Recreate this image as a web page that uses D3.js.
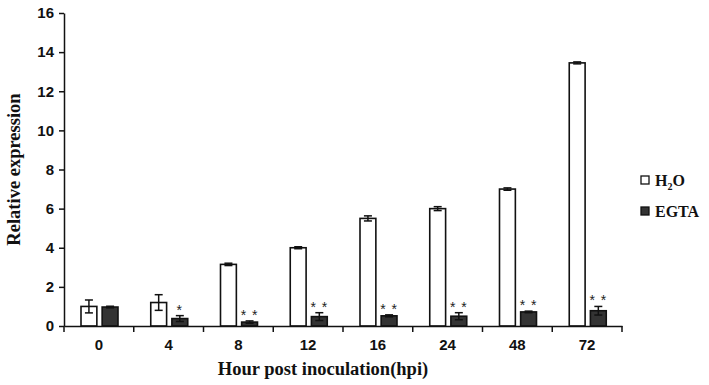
<!DOCTYPE html>
<html>
<head>
<meta charset="utf-8">
<script src="https://cdn.jsdelivr.net/npm/d3@7"></script>
<style>
  body { margin: 0; background: #fff; }
</style>
</head>
<body>
<div id="chart"></div>
<script>
// data
const hours = ["0", "4", "8", "12", "16", "24", "48", "72"];
const series = ["H2O", "EGTA"];
const h2oValues = [1.0, 1.2, 3.15, 4.0, 5.5, 6.0, 7.0, 13.45];
const h2oErrors = [0.33, 0.4, 0.06, 0.05, 0.13, 0.1, 0.06, 0.05];
const egtaValues = [0.97, 0.38, 0.2, 0.48, 0.52, 0.5, 0.72, 0.78];
const egtaErrors = [0.04, 0.15, 0.06, 0.2, 0.05, 0.18, 0.04, 0.22];
const marks = ["", "*", "**", "**", "**", "**", "**", "**"];
const yTicks = [0, 2, 4, 6, 8, 10, 12, 14, 16];

const width = 709, height = 385;
const margin = { t: 13, r: 87, b: 59, l: 64 };
const w = width - margin.l - margin.r;
const h = height - margin.t - margin.b;

const svg = d3.select("#chart").append("svg")
    .attr("width", width)
    .attr("height", height);

const g = svg.append("g").attr("transform", `translate(${margin.l},${margin.t})`);

const x = d3.scaleBand().domain(hours).range([0, w]).padding(0);
const x1 = d3.scaleBand().domain(series).range([17, 54]).paddingInner(0.25).paddingOuter(0);
const y = d3.scaleLinear().domain([0, 16]).range([h, 0]);

const rows = hours.map((hr, i) => ({
    hour: hr,
    mark: marks[i],
    bars: [
        { key: "H2O", v: h2oValues[i], e: h2oErrors[i] },
        { key: "EGTA", v: egtaValues[i], e: egtaErrors[i] }
    ]
}));

const fills = { "H2O": "#fff", "EGTA": "#333" };

// bars
const groups = g.selectAll(".grp").data(rows).join("g")
    .attr("class", "grp")
    .attr("transform", d => `translate(${x(d.hour)},0)`);

groups.selectAll("rect").data(d => d.bars).join("rect")
    .attr("x", d => x1(d.key))
    .attr("y", d => y(d.v))
    .attr("width", x1.bandwidth())
    .attr("height", d => h - y(d.v))
    .attr("fill", d => fills[d.key])
    .attr("stroke", "#111")
    .attr("stroke-width", 1.6);

// error bars
const err = groups.selectAll(".err").data(d => d.bars).join("g").attr("class", "err")
    .attr("stroke", "#111").attr("stroke-width", 1.5);
err.append("line")
    .attr("x1", d => x1(d.key) + x1.bandwidth() / 2)
    .attr("x2", d => x1(d.key) + x1.bandwidth() / 2)
    .attr("y1", d => y(d.v + d.e))
    .attr("y2", d => y(d.v - d.e));
err.append("line")
    .attr("x1", d => x1(d.key) + x1.bandwidth() / 2 - 4)
    .attr("x2", d => x1(d.key) + x1.bandwidth() / 2 + 4)
    .attr("y1", d => y(d.v + d.e))
    .attr("y2", d => y(d.v + d.e));
err.append("line")
    .attr("x1", d => x1(d.key) + x1.bandwidth() / 2 - 4)
    .attr("x2", d => x1(d.key) + x1.bandwidth() / 2 + 4)
    .attr("y1", d => y(d.v - d.e))
    .attr("y2", d => y(d.v - d.e));

// significance stars
groups.append("text")
    .attr("x", x1("EGTA") + x1.bandwidth() / 2)
    .attr("y", d => y(d.bars[1].v + d.bars[1].e) - 1)
    .attr("text-anchor", "middle")
    .attr("font-family", "Liberation Sans, Arial, sans-serif")
    .attr("font-size", "14px")
    .attr("fill", "#222")
    .attr("letter-spacing", "1px")
    .text(d => d.mark.split("").join(" "));

// y axis
const yAxis = g.append("g")
    .call(d3.axisLeft(y).tickValues(yTicks).tickSize(5).tickSizeOuter(0).tickPadding(5));
yAxis.selectAll("text")
    .attr("font-family", "Liberation Sans, Arial, sans-serif")
    .attr("font-weight", "bold")
    .attr("font-size", "15px")
    .attr("fill", "#111");
yAxis.selectAll("line, path").attr("stroke", "#111").attr("stroke-width", 1.5);

// x axis: labels centered, ticks on the band boundaries
const xAxis = g.append("g").attr("transform", `translate(0,${h})`)
    .call(d3.axisBottom(x).tickSize(0).tickSizeOuter(0).tickPadding(13));
xAxis.selectAll("text")
    .attr("font-family", "Liberation Sans, Arial, sans-serif")
    .attr("font-weight", "bold")
    .attr("font-size", "15px")
    .attr("fill", "#111");
xAxis.select("path").attr("stroke", "#111").attr("stroke-width", 1.5);
xAxis.selectAll(".bnd").data(hours.map(d => x(d)).concat([w])).join("line")
    .attr("class", "bnd")
    .attr("x1", d => d).attr("x2", d => d)
    .attr("y1", 0).attr("y2", 6)
    .attr("stroke", "#111").attr("stroke-width", 1.5);

// axis titles
svg.append("text")
    .attr("transform", `translate(20,${margin.t + h / 2}) rotate(-90)`)
    .attr("text-anchor", "middle")
    .attr("font-family", "Liberation Serif, Times New Roman, serif")
    .attr("font-weight", "bold")
    .attr("font-size", "18.5px")
    .attr("fill", "#111")
    .text("Relative expression");

svg.append("text")
    .attr("x", 323)
    .attr("y", 375)
    .attr("text-anchor", "middle")
    .attr("font-family", "Liberation Serif, Times New Roman, serif")
    .attr("font-weight", "bold")
    .attr("font-size", "18.5px")
    .attr("fill", "#111")
    .text("Hour post inoculation(hpi)");

// legend
const legend = svg.append("g").attr("transform", "translate(641,176)");
series.forEach((s, i) => {
    const lg = legend.append("g").attr("transform", `translate(0,${i * 31})`);
    lg.append("rect").attr("width", 8).attr("height", 8)
        .attr("fill", fills[s]).attr("stroke", "#111").attr("stroke-width", 1.3);
    const t = lg.append("text").attr("x", 14).attr("y", 10)
        .attr("font-family", "Liberation Serif, Times New Roman, serif")
        .attr("font-weight", "bold")
        .attr("font-size", "16px")
        .attr("fill", "#111");
    if (s === "H2O") {
        t.append("tspan").text("H");
        t.append("tspan").attr("font-size", "10px").attr("dy", 4).text("2");
        t.append("tspan").attr("dy", -4).text("O");
    } else {
        t.text(s);
    }
});
</script>
</body>
</html>
